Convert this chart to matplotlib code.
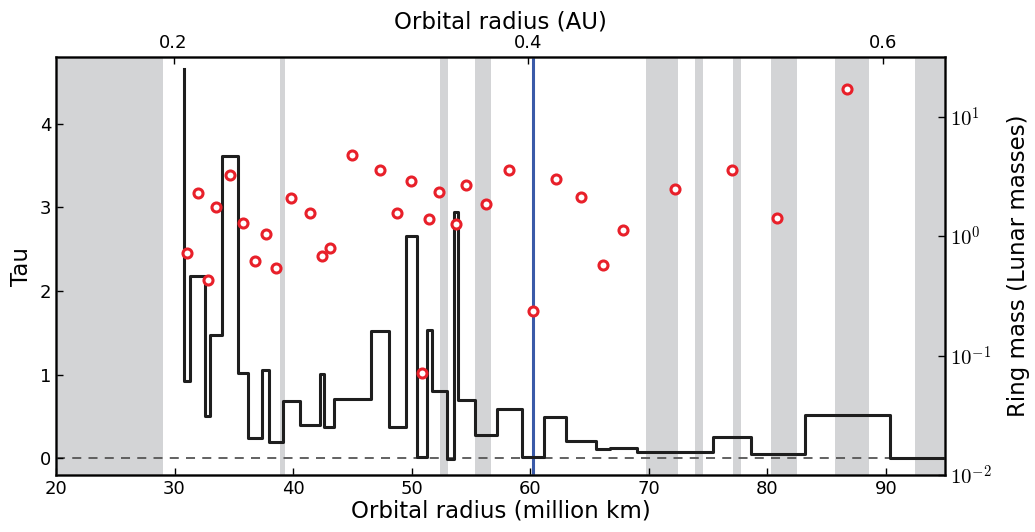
import numpy as np
import matplotlib
matplotlib.use('Agg')
import matplotlib.pyplot as plt
from matplotlib.ticker import FixedLocator, FuncFormatter, NullLocator

plt.rcParams['mathtext.fontset'] = 'cm'

# Gap regions (million km)
gap_start = [20.0, 38.88, 52.39, 55.33, 69.8, 73.94, 77.15, 80.31, 85.75, 92.48]
gap_end = [29.0, 39.36, 53.1, 56.7, 72.48, 74.59, 77.77, 82.5, 88.6, 95.0]

# Optical depth profile (bin edges in million km, tau per bin)
tau_edges = [30.78, 30.78, 31.34, 32.54, 33.02, 34.0, 35.39, 36.23, 37.35, 37.99,
             39.11, 40.61, 42.23, 42.6, 43.49, 46.56, 48.08, 49.52, 50.48, 51.27,
             51.69, 52.96, 53.58, 53.94, 55.35, 57.18, 59.3, 61.18, 63.0, 65.55,
             66.76, 69.01, 75.44, 78.59, 83.18, 90.37, 95.0]
tau_values = [4.66, 0.92, 2.18, 0.51, 1.47, 3.61, 1.02, 0.24, 1.06, 0.20,
              0.69, 0.40, 1.01, 0.37, 0.71, 1.52, 0.37, 2.66, 0.02, 1.54,
              0.80, -0.01, 2.94, 0.70, 0.28, 0.59, 0.02, 0.50, 0.21, 0.11,
              0.12, 0.07, 0.25, 0.05, 0.52, 0.0]

# Ring masses (Lunar masses)
ring_r = [31.06, 31.96, 32.79, 33.52, 34.69, 35.81, 36.79, 37.68, 38.52, 39.86,
          41.42, 42.40, 43.08, 45.01, 47.30, 48.76, 49.97, 50.85, 51.46, 52.31,
          53.72, 54.62, 56.28, 58.23, 60.20, 62.14, 64.25, 66.14, 67.83, 72.20,
          77.01, 80.85, 86.70]
ring_mass = [0.716, 2.30, 0.429, 1.75, 3.24, 1.28, 0.618, 1.05, 0.540, 2.07,
             1.55, 0.681, 0.798, 4.79, 3.61, 1.57, 2.92, 0.0718, 1.39, 2.32,
             1.26, 2.69, 1.84, 3.55, 0.234, 2.98, 2.11, 0.575, 1.12, 2.47,
             3.61, 1.42, 17.0]

marker_r = 60.2
km_per_au = 149.6

fig = plt.figure(figsize=(10.35, 5.32), dpi=100)
ax = fig.add_axes([0.0541, 0.107, 0.859, 0.786])

for s, e in zip(gap_start, gap_end):
    ax.axvspan(s, e, color='#d3d4d6', lw=0, zorder=0)

ax.axhline(0, color='#555555', lw=1.3, ls=(0, (5, 4)), zorder=1)
ax.plot(tau_edges, tau_values + [tau_values[-1]], drawstyle='steps-post',
        color='#1e1e1e', lw=2.2, zorder=3)
ax.axvline(marker_r, color='#3a5aa8', lw=2.2, zorder=2)

ax.set_xlim(20, 95)
ax.set_ylim(-0.2, 4.8)
ax.set_xticks([20, 30, 40, 50, 60, 70, 80, 90])
ax.set_yticks([0, 1, 2, 3, 4])
ax.tick_params(direction='in', length=5, width=1, labelsize=13,
               top=False, right=False)
ax.set_xlabel('Orbital radius (million km)', fontsize=16.5, labelpad=1)
ax.set_ylabel('Tau', fontsize=16.5, labelpad=5)
for sp in ax.spines.values():
    sp.set_linewidth(1.8)
    sp.set_color('#222222')

# Ring mass axis
ax2 = ax.twinx()
ax2.plot(ring_r, ring_mass, 'o', ms=6.5, mfc='white', mec='#e8202a', mew=2.2,
         zorder=5, clip_on=False)
ax2.set_yscale('log')
ax2.set_ylim(1e-2, 10 ** 1.5)
ax2.yaxis.set_major_locator(FixedLocator([1e-2, 1e-1, 1e0, 1e1]))
ax2.yaxis.set_minor_locator(NullLocator())
ax2.yaxis.set_major_formatter(FuncFormatter(lambda v, p: r'$10^{%d}$' % round(np.log10(v))))
ax2.tick_params(direction='in', length=5, width=1, labelsize=15)
ax2.set_ylabel('Ring mass (Lunar masses)', fontsize=16.5, labelpad=11)

# AU axis on top
ax3 = ax.twiny()
ax3.set_xlim(20 / km_per_au, 95 / km_per_au)
ax3.set_xticks([0.2, 0.4, 0.6])
ax3.xaxis.set_minor_locator(NullLocator())
ax3.tick_params(direction='in', length=5, width=1, labelsize=13)
ax3.set_xlabel('Orbital radius (AU)', fontsize=16.5, labelpad=4)

fig.savefig('out.png', dpi=100)
